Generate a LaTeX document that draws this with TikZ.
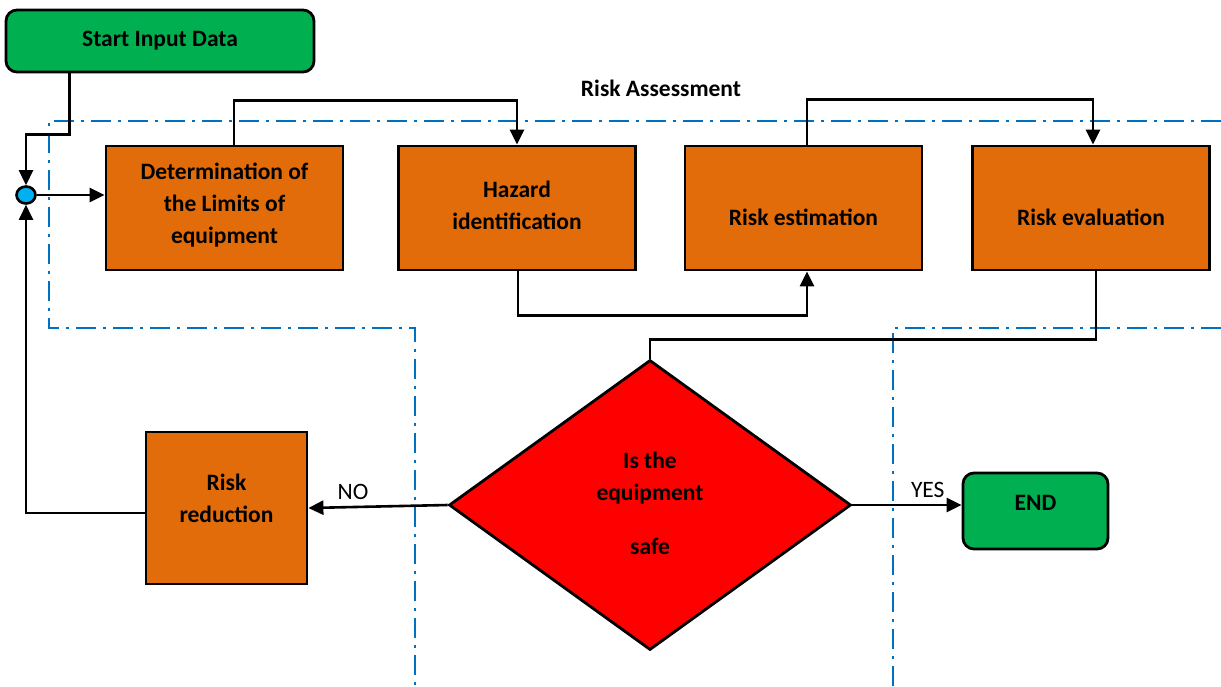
\documentclass[tikz,border=0pt]{standalone}
\usepackage{fontspec}
\setmainfont{Carlito}
\usetikzlibrary{arrows.meta,shapes.geometric}
\definecolor{procorange}{RGB}{227,108,10}
\definecolor{termgreen}{RGB}{0,176,80}
\definecolor{decred}{RGB}{255,0,0}
\definecolor{juncyan}{RGB}{0,176,240}
\definecolor{bndblue}{RGB}{0,112,192}
\tikzset{
  txt/.style={font=\fontsize{23.5}{32}\selectfont\bfseries, align=center, text=black},
  proc/.style={draw=black, line width=2.8pt, fill=procorange, inner sep=0pt, minimum width=237pt, minimum height=124pt},
  term/.style={draw=black, line width=2.8pt, fill=termgreen, rounded corners=11pt, inner sep=0pt},
  decbox/.style={draw=black, line width=2.8pt, fill=decred, shape=diamond, inner sep=0pt, minimum width=402pt, minimum height=290pt},
  junc/.style={draw=black, line width=2.6pt, fill=juncyan, shape=ellipse, inner sep=0pt, minimum width=19pt, minimum height=17pt},
  conn/.style={draw=black, line width=2.6pt},
  arr/.style={conn, -{Triangle[length=15pt,width=14pt]}},
  bnd/.style={draw=bndblue, line width=2.4pt, dash pattern=on 20pt off 7pt on 3pt off 7pt},
  lbl/.style={font=\fontsize{23.5}{28}\selectfont, text=black, inner sep=0pt}
}
\begin{document}
\begin{tikzpicture}[x=1pt,y=-1pt]
\useasboundingbox (0,0) rectangle (1221,686);

% boundaries of the risk assessment region
\draw[bnd] (1221,121) -- (49,121) -- (49,328) -- (415,328) -- (415,686);
\draw[bnd] (1221,328) -- (893,328) -- (893,686);

\node[txt] (title) at (661,88) {Risk Assessment};

\node[term, txt, minimum width=308pt, minimum height=62pt] (start) at (160,41) {Start Input Data};
\node[junc] (jn) at (26,195) {};

\node[proc, label={[txt, yshift=3pt]center:Determination of\\the Limits of\\equipment}] (b1) at (224.5,208) {};
\node[proc, label={[txt, yshift=2.5pt]center:Hazard\\identification}] (b2) at (517,208) {};
\node[proc, label={[txt, yshift=-9pt]center:Risk estimation}] (b3) at (803.5,208) {};
\node[proc, label={[txt, yshift=-9pt]center:Risk evaluation}] (b4) at (1091,208) {};

\node[decbox] (dia) at (650,505) {};
\node[txt] (diatext) at (650,503) {Is the\\equipment\\[22pt]safe};

\node[proc, minimum width=161pt, minimum height=152pt, label={[txt, yshift=10pt]center:Risk\\reduction}] (rr) at (226.5,508) {};
\node[term, minimum width=145pt, minimum height=76pt, label={[txt, yshift=8pt]center:END}] (end) at (1035.5,511) {};

% connectors
\draw[arr] ([xshift=65pt]start.south west) -- ++(0,61) -| (jn.north);
\draw[arr] (jn.east) -- (jn.east -| b1.west);
\draw[arr] ([xshift=9.5pt]b1.north) -- ++(0,-44) -| (b2.north);
\draw[arr] ([xshift=1pt]b2.south) -- ++(0,44) -| ([xshift=3.5pt]b3.south);
\draw[arr] ([xshift=3.5pt]b3.north) -- ++(0,-45) -| ([xshift=2pt]b4.north);
\draw[conn] ([xshift=5pt]b4.south) -- ++(0,68) -| (dia.north);
\draw[arr] (dia.west) -- node[lbl, pos=0.68, above=6pt] {NO} (rr.east);
\draw[arr] ([yshift=-5pt]rr.west) -| (jn.south);
\draw[arr] (dia.east) -- node[lbl, pos=0.69, above=6pt] {YES} (dia.east -| end.west);
\end{tikzpicture}
\end{document}
